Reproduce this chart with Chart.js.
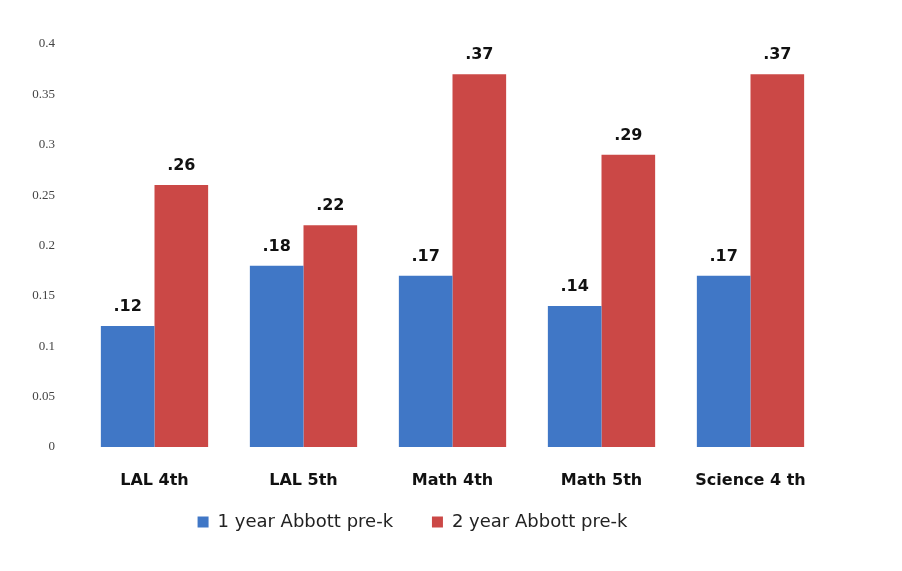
<!DOCTYPE html>
<html>
<head>
<meta charset="utf-8">
<script src="https://cdn.jsdelivr.net/npm/chart.js@4"></script>
<style>
  body { margin: 0; background: #fff; }
  #wrap { width: 902px; height: 571px; }
</style>
</head>
<body>
<div id="wrap"><canvas id="graphe" width="902" height="571"></canvas></div>
<script>
const categories = ["LAL 4th", "LAL 5th", "Math 4th", "Math 5th", "Science 4 th"];
const unAn = [0.12, 0.18, 0.17, 0.14, 0.17];
const deuxAns = [0.26, 0.22, 0.37, 0.29, 0.37];
const nomsSeries = ["1 year Abbott pre-k", "2 year Abbott pre-k"];

// etiquettes au-dessus des barres (".12", ".26"...)
const etiquettes = {
    id: "etiquettes",
    afterDatasetsDraw(chart) {
        const ctx = chart.ctx;
        ctx.save();
        ctx.font = "bold 16px 'DejaVu Sans'";
        ctx.fillStyle = "#111";
        ctx.textAlign = "center";
        ctx.textBaseline = "alphabetic";
        chart.data.datasets.forEach((ds, i) => {
            chart.getDatasetMeta(i).data.forEach((bar, j) => {
                const txt = ds.data[j].toFixed(2).replace(/^0/, "");
                ctx.fillText(txt, bar.x, bar.y - 15);
            });
        });
        ctx.restore();
    },
};

const ctx = document.getElementById("graphe");
let graphique = new Chart(ctx, {
    type: "bar",
    data: {
        labels: categories,
        datasets: [
            {
                label: nomsSeries[0],
                data: unAn,
                backgroundColor: "#4077c6",
                borderWidth: 0,
                barPercentage: 1,
                categoryPercentage: 0.72,
            },
            {
                label: nomsSeries[1],
                data: deuxAns,
                backgroundColor: "#cb4846",
                borderWidth: 0,
                barPercentage: 1,
                categoryPercentage: 0.72,
            },
        ],
    },
    options: {
        responsive: false,
        animation: false,
        layout: {
            padding: { top: 44, right: 77, bottom: 30, left: 0 },
        },
        plugins: {
            legend: {
                position: "bottom",
                labels: {
                    boxWidth: 11,
                    boxHeight: 11,
                    padding: 16,
                    color: "#222",
                    font: { family: "'DejaVu Sans'", size: 18 },
                    generateLabels(chart) {
                        const items = Chart.defaults.plugins.legend.labels.generateLabels(chart);
                        // un peu plus d'espace entre les deux entrees
                        items.forEach((it, k) => {
                            if (k < items.length - 1) it.text += "    ";
                        });
                        return items;
                    },
                },
            },
            tooltip: { enabled: false },
        },
        scales: {
            x: {
                grid: { display: false },
                border: { display: false },
                ticks: {
                    padding: 16,
                    color: "#111",
                    font: { family: "'DejaVu Sans'", size: 16, weight: "bold" },
                },
                afterFit(scale) { scale.height = 50; },
            },
            y: {
                min: 0,
                max: 0.4,
                grid: { display: false },
                border: { display: false },
                ticks: {
                    stepSize: 0.05,
                    padding: 17,
                    color: "#444",
                    font: { family: "'Liberation Serif'", size: 13 },
                    callback: (v) => String(Math.round(v * 100) / 100),
                },
                afterFit(scale) { scale.width = 80; },
            },
        },
    },
    plugins: [etiquettes],
});
</script>
</body>
</html>
